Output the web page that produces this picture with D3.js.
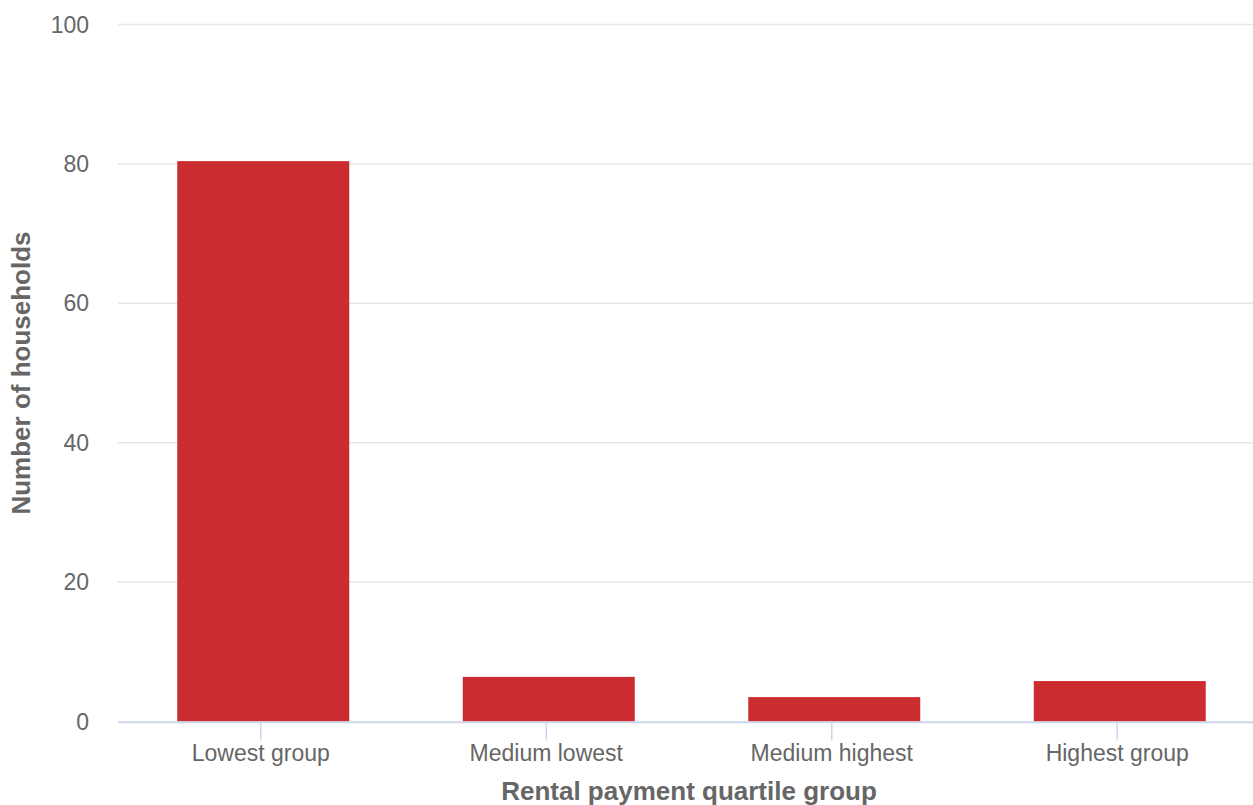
<!DOCTYPE html>
<html><head><meta charset="utf-8">
<script src="https://cdn.jsdelivr.net/npm/d3@7"></script>
<style>
html,body{margin:0;padding:0;background:#fff;}
svg{display:block;font-family:"Liberation Sans",Arial,sans-serif;}
</style></head>
<body>
<svg id="chart" width="1253" height="805"></svg>
<script>
const categories = ["Lowest group", "Medium lowest", "Medium highest", "Highest group"];
const values = [80.4, 6.4, 3.5, 5.8];
const yTicks = [0, 20, 40, 60, 80, 100];
const xTitle = "Rental payment quartile group";
const yTitle = "Number of households";

(function () {
const svg = d3.select("#chart");
const mLeft = 118, mRight = 1260, mTop = 24.5, mBottom = 721.5;

const xc = d3.scalePoint().domain(categories).range([mLeft, mRight]).padding(0.5);
const y = d3.scaleLinear().domain([0, 100]).range([mBottom, mTop]);

// gridlines
svg.append("g").selectAll("line").data(yTicks.filter(d => d > 0)).join("line")
  .attr("x1", mLeft).attr("x2", 1253)
  .attr("y1", d => y(d)).attr("y2", d => y(d))
  .attr("stroke", "#e6e6e6").attr("stroke-width", 1.5);

// y labels
svg.append("g").selectAll("text").data(yTicks).join("text")
  .attr("x", 89).attr("y", d => y(d)).attr("dy", "0.35em")
  .attr("text-anchor", "end").attr("fill", "#666").attr("font-size", 23)
  .text(d => d);

// bars
const bw = 172, barShift = 2.5;
svg.append("g").selectAll("rect").data(values).join("rect")
  .attr("x", (d, i) => xc(categories[i]) - bw / 2 + barShift)
  .attr("width", bw)
  .attr("y", d => y(d)).attr("height", d => y(0) - y(d))
  .attr("fill", "#cb2c30");

// x axis line
svg.append("line").attr("x1", mLeft).attr("x2", 1253).attr("y1", y(0) + 0.8).attr("y2", y(0) + 0.8)
  .attr("stroke", "#ccd6eb").attr("stroke-width", 2);

// ticks
svg.append("g").selectAll("line").data(categories).join("line")
  .attr("x1", d => xc(d)).attr("x2", d => xc(d))
  .attr("y1", y(0)).attr("y2", y(0) + 19)
  .attr("stroke", "#ccd6eb").attr("stroke-width", 1.5);

// x labels
svg.append("g").selectAll("text").data(categories).join("text")
  .attr("x", d => xc(d)).attr("y", 761)
  .attr("text-anchor", "middle").attr("fill", "#666").attr("font-size", 23)
  .text(d => d);

// axis titles
svg.append("text").attr("x", (mLeft + mRight) / 2).attr("y", 800)
  .attr("text-anchor", "middle").attr("fill", "#666").attr("font-size", 26).attr("font-weight", "bold")
  .text(xTitle);
svg.append("text").attr("transform", `translate(30,${(mTop + mBottom) / 2}) rotate(-90)`)
  .attr("text-anchor", "middle").attr("fill", "#666").attr("font-size", 26).attr("font-weight", "bold")
  .text(yTitle);
})();
</script>
</body></html>
